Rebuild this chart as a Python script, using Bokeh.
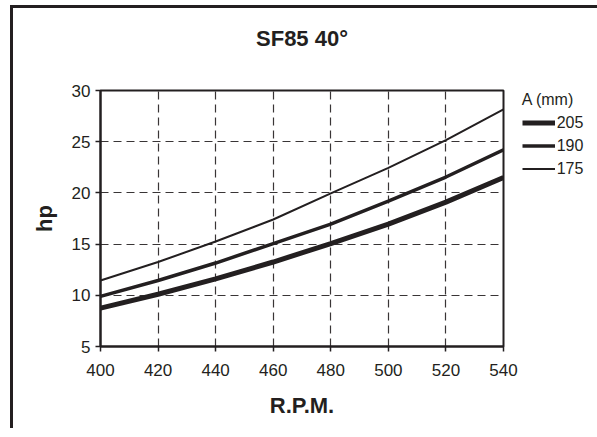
from bokeh.plotting import figure
from bokeh.models import Legend, LegendItem, FixedTicker, Range1d, Title
from bokeh.embed import file_html
from bokeh.resources import INLINE

rpm = [400, 420, 440, 460, 480, 500, 520, 540]
hp_205 = [8.75, 10.1, 11.6, 13.25, 15.05, 16.95, 19.1, 21.5]
hp_190 = [9.9, 11.45, 13.15, 15.05, 16.95, 19.2, 21.55, 24.2]
hp_175 = [11.45, 13.25, 15.25, 17.4, 19.95, 22.45, 25.15, 28.15]
series_names = ["205", "190", "175"]
x_ticks = [400, 420, 440, 460, 480, 500, 520, 540]
y_ticks = [5, 10, 15, 20, 25, 30]

INK = "#231f20"
FONT = "Liberation Sans"

p = figure(output_backend="svg", toolbar_location=None,
           frame_width=403, frame_height=256,
           min_border_left=87, min_border_top=82,
           min_border_right=90, min_border_bottom=82,
           x_range=Range1d(400, 540), y_range=Range1d(5, 30),
           background_fill_color="white", border_fill_color="white",
           title="SF85 40°")
p.styles = {"border-left": "3px solid " + INK, "border-top": "3px solid " + INK,
            "margin-left": "10px", "margin-top": "5px"}

p.title.align = "center"
p.title.text_font = FONT
p.title.text_font_style = "bold"
p.title.text_font_size = "22px"
p.title.text_color = INK
p.title.standoff = 30

spacer = Title(text=" ", text_font_size="1px", standoff=21.5)
p.add_layout(spacer, "above")

p.outline_line_color = INK
p.outline_line_width = 2

for ax in (p.xaxis[0], p.yaxis[0]):
    ax.axis_line_color = INK
    ax.axis_line_width = 2
    ax.major_tick_line_color = INK
    ax.major_tick_line_width = 1.5
    ax.major_tick_in = 0
    ax.major_tick_out = 5
    ax.minor_tick_line_color = None
    ax.major_label_text_font = FONT
    ax.major_label_text_font_size = "17px"
    ax.major_label_text_color = INK
    ax.axis_label_text_font = FONT
    ax.axis_label_text_font_style = "bold"
    ax.axis_label_text_font_size = "22px"
    ax.axis_label_text_color = INK

p.xaxis[0].ticker = FixedTicker(ticks=x_ticks)
p.yaxis[0].ticker = FixedTicker(ticks=y_ticks)
p.xaxis[0].axis_label = "R.P.M."
p.yaxis[0].axis_label = "hp"
p.xaxis[0].major_label_standoff = 12
p.yaxis[0].major_label_standoff = 5
p.xaxis[0].axis_label_standoff = 14
p.yaxis[0].axis_label_standoff = 12

for g in (p.xgrid[0], p.ygrid[0]):
    g.grid_line_color = INK
    g.grid_line_width = 1.2
    g.grid_line_dash = "8 5"
    g.grid_line_alpha = 0.9

r205 = p.line(rpm, hp_205, line_color=INK, line_width=5)
r190 = p.line(rpm, hp_190, line_color=INK, line_width=3.5)
r175 = p.line(rpm, hp_175, line_color=INK, line_width=2)

legend = Legend(items=[LegendItem(label=series_names[0], renderers=[r205]),
                       LegendItem(label=series_names[1], renderers=[r190]),
                       LegendItem(label=series_names[2], renderers=[r175])],
                title="A (mm)", title_text_font=FONT,
                title_text_font_style="normal",
                title_text_font_size="16px", title_text_color=INK,
                title_standoff=2,
                location=(18.7, 165.8), padding=0, margin=0, spacing=0,
                glyph_width=33, glyph_height=23, label_height=23,
                label_standoff=2, border_line_color=None,
                background_fill_alpha=0,
                label_text_font=FONT, label_text_font_size="16px",
                label_text_color=INK)
p.add_layout(legend, "right")

open("out.html", "w").write(file_html(p, INLINE))
